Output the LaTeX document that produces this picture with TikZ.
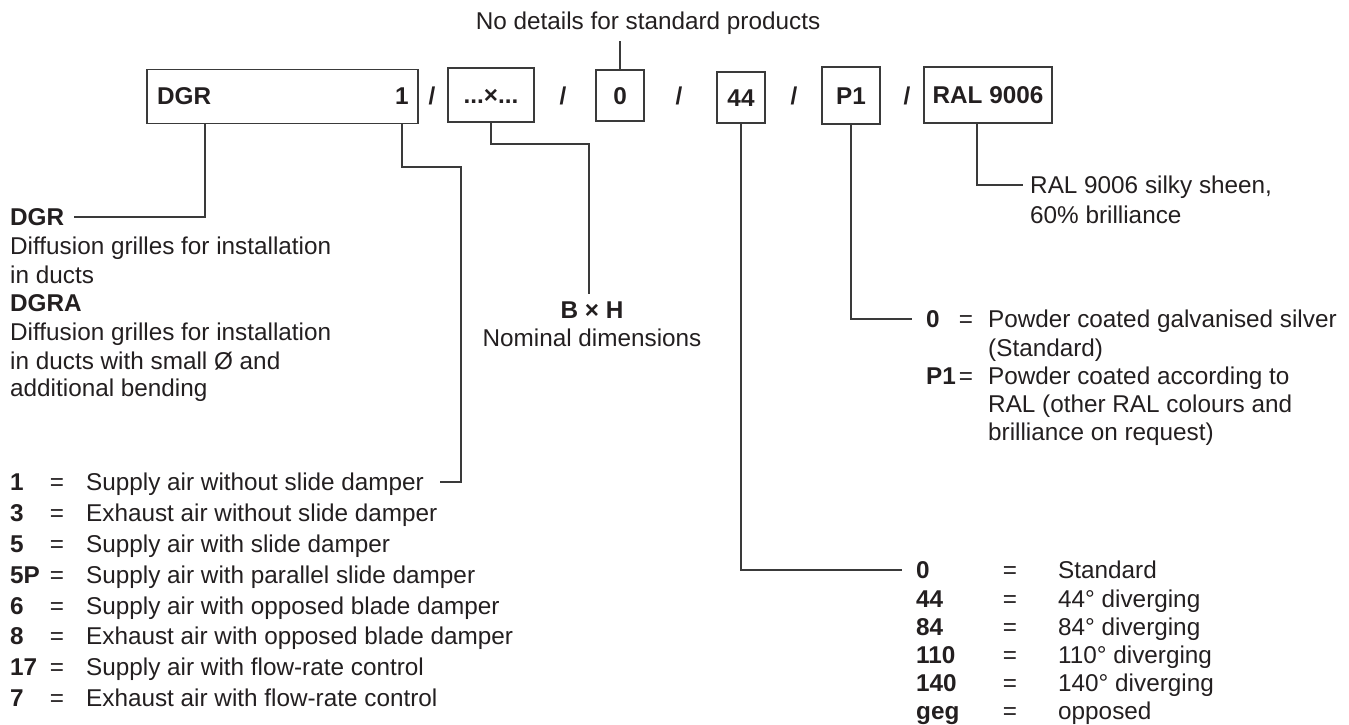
\documentclass[tikz,border=0pt]{standalone}
\usepackage{fontspec}
\setmainfont{Liberation Sans}
\definecolor{ink}{HTML}{231F20}
\definecolor{lnc}{HTML}{3A3A3A}
\newcommand{\fs}{\fontsize{24.3}{29}\selectfont}
\begin{document}
\begin{tikzpicture}[x=1pt,y=-1pt,
  t/.style={font=\fs, text=ink, inner sep=0pt, text height=17.5pt, text depth=0pt, anchor=west},
  tb/.style={t, font=\fs\bfseries},
  tc/.style={tb, anchor=center},
  eq/.style={t, anchor=center},
  bx/.style={draw=lnc, line width=1.3pt, inner sep=0pt},
  ln/.style={draw=lnc, line width=1.2pt}]
\useasboundingbox (0,0) rectangle (1349,724);

% ---- code boxes ----
\node[bx, minimum width=271pt, minimum height=54pt] (bDGR) at (282.5,96.5) {};
\node[bx, minimum width=86pt, minimum height=54pt] (bXH) at (491,95) {};
\node[bx, minimum width=48pt, minimum height=51pt] (b0) at (620,95.5) {};
\node[bx, minimum width=48pt, minimum height=51pt] (b44) at (741,97.5) {};
\node[bx, minimum width=58pt, minimum height=57pt] (bP1) at (851,95.5) {};
\node[bx, minimum width=128pt, minimum height=56pt] (bRAL) at (988,95) {};

\node[tb] (tDGR) at (157,96) {DGR};
\node[tc] (t1) at (402,96) {1};
\node[tc] (tXH) at (bXH) {...×...};
\node[tc] (t0) at (b0) {0};
\node[tc] (t44) at (b44) {44};
\node[tc] (tP1) at (bP1) {P1};
\node[tc] (tRAL) at (bRAL) {RAL 9006};

\node[tc] (s1) at (432,96) {/};
\node[tc] (s2) at (563,96) {/};
\node[tc] (s3) at (679,96) {/};
\node[tc] (s4) at (794,96) {/};
\node[tc] (s5) at (907,96) {/};

% ---- title ----
\node[t, anchor=center] (lNo) at (648,21) {No details for standard products};

% ---- left block ----
\node[tb] (lDGR) at (10,217) {DGR};
\node[t] at (10,246) {Diffusion grilles for installation};
\node[t] at (10,275) {in ducts};
\node[tb] at (10,303) {DGRA};
\node[t] at (10,332) {Diffusion grilles for installation};
\node[t] at (10,361) {in ducts with small Ø and};
\node[t] at (10,388) {additional bending};

% ---- B x H ----
\node[tc] (lBH) at (592,310) {B × H};
\node[eq] (lNom) at (592,338) {Nominal dimensions};

% ---- left list ----
\node[tb] at (10,482) {1};   \node[eq] at (57,482) {=}; \node[t] (r1) at (86,482) {Supply air without slide damper};
\node[tb] at (10,513) {3};   \node[eq] at (57,513) {=}; \node[t] at (86,513) {Exhaust air without slide damper};
\node[tb] at (10,544) {5};   \node[eq] at (57,544) {=}; \node[t] at (86,544) {Supply air with slide damper};
\node[tb] at (10,575) {5P};  \node[eq] at (57,575) {=}; \node[t] at (86,575) {Supply air with parallel slide damper};
\node[tb] at (10,606) {6};   \node[eq] at (57,606) {=}; \node[t] at (86,606) {Supply air with opposed blade damper};
\node[tb] at (10,636) {8};   \node[eq] at (57,636) {=}; \node[t] at (86,636) {Exhaust air with opposed blade damper};
\node[tb] at (10,667) {17};  \node[eq] at (57,667) {=}; \node[t] at (86,667) {Supply air with flow-rate control};
\node[tb] at (10,698) {7};   \node[eq] at (57,698) {=}; \node[t] at (86,698) {Exhaust air with flow-rate control};

% ---- RAL text ----
\node[t] (lRAL) at (1030,185) {RAL 9006 silky sheen,};
\node[t] at (1030,215) {60\% brilliance};

% ---- P1 block ----
\node[tb] (p0) at (926,319) {0};   \node[eq] at (966,319) {=}; \node[t] at (988,319) {Powder coated galvanised silver};
\node[t] at (988,348) {(Standard)};
\node[tb] at (926,376) {P1};  \node[eq] at (966,376) {=}; \node[t] at (988,376) {Powder coated according to};
\node[t] at (988,404) {RAL (other RAL colours and};
\node[t] at (988,432) {brilliance on request)};

% ---- 44 block ----
\node[tb] (g0) at (916,570) {0};   \node[eq] at (1010,570) {=}; \node[t] at (1058,570) {Standard};
\node[tb] at (916,599) {44};  \node[eq] at (1010,599) {=}; \node[t] at (1058,599) {44° diverging};
\node[tb] at (916,627) {84};  \node[eq] at (1010,627) {=}; \node[t] at (1058,627) {84° diverging};
\node[tb] at (916,655) {110}; \node[eq] at (1010,655) {=}; \node[t] at (1058,655) {110° diverging};
\node[tb] at (916,683) {140}; \node[eq] at (1010,683) {=}; \node[t] at (1058,683) {140° diverging};
\node[tb] at (916,711) {geg}; \node[eq] at (1010,711) {=}; \node[t] at (1058,711) {opposed};

% ---- connectors ----
\coordinate (kDGR) at (205,0);
\coordinate (k1) at (461,167);
\coordinate (kXH) at (589,144);
\coordinate (kRAL) at (977,0);

\draw[ln] (bDGR.south -| kDGR) |- ([xshift=10pt]lDGR.east);
\draw[ln] (bDGR.south -| t1) |- (k1) |- ([xshift=16pt]r1.east);
\draw[ln] (bXH.south) |- (kXH) -- ([yshift=7pt]kXH |- lBH.north);
\draw[ln] (b0.north) -- ([yshift=-11pt]b0.north |- lNo.south);
\draw[ln] (b44.south) |- ([xshift=-14pt]g0.west);
\draw[ln] (bP1.south) |- ([xshift=-14pt]p0.west);
\draw[ln] (bRAL.south -| kRAL) |- ([xshift=-7pt]lRAL.west);
\end{tikzpicture}
\end{document}
